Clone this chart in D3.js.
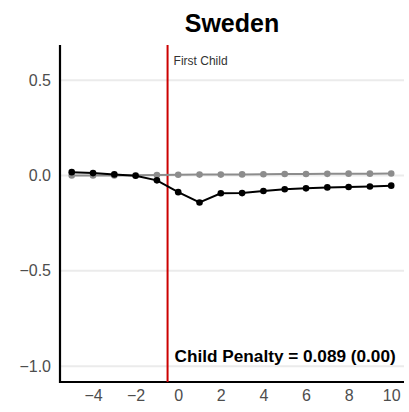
<!DOCTYPE html>
<html>
<head>
<meta charset="utf-8">
<script src="https://cdn.jsdelivr.net/npm/d3@7/dist/d3.min.js"></script>
<style>
  html, body { margin: 0; padding: 0; background: #fff; }
  svg { display: block; font-family: "Liberation Sans", Arial, sans-serif; }
</style>
</head>
<body>
<svg id="chart" width="409" height="412"></svg>
<script>
// Event time relative to first child
const eventTime = [-5, -4, -3, -2, -1, 0, 1, 2, 3, 4, 5, 6, 7, 8, 9, 10];
// Women's earnings impact (black) and men's (gray)
const womenImpact = [0.018, 0.013, 0.006, -0.001, -0.025, -0.087, -0.141, -0.093, -0.092, -0.081, -0.072, -0.067, -0.062, -0.060, -0.057, -0.053];
const menImpact = [0.000, 0.000, 0.001, 0.002, 0.003, 0.004, 0.005, 0.005, 0.006, 0.007, 0.008, 0.008, 0.009, 0.010, 0.010, 0.011];
const yTicks = [0.5, 0.0, -0.5, -1.0];
const xTicks = [-4, -2, 0, 2, 4, 6, 8, 10];
const title = "Sweden";
const eventLabel = "First Child";
const penaltyLabel = "Child Penalty = 0.089 (0.00)";

const svg = d3.select("#chart");
const margin = { left: 60, right: 5, top: 45, bottom: 30 };
const W = 409, H = 412;

const x = d3.scaleLinear().domain([-5.55, 10.6]).range([margin.left, W - margin.right]);
const y = d3.scaleLinear().domain([-1.083, 0.685]).range([H - margin.bottom, margin.top]);

// Horizontal gridlines
svg.append("g")
  .selectAll("line")
  .data(yTicks)
  .join("line")
  .attr("x1", margin.left).attr("x2", W - margin.right)
  .attr("y1", d => y(d)).attr("y2", d => y(d))
  .attr("stroke", "#ebebeb").attr("stroke-width", 2);

// Y axis
const yAxis = svg.append("g")
  .attr("transform", `translate(${margin.left},0)`)
  .call(d3.axisLeft(y).tickValues(yTicks).tickFormat(d3.format(".1f")).tickSize(0).tickPadding(9));
yAxis.select(".domain").remove();
yAxis.selectAll("text").attr("font-size", 16).attr("fill", "#4d4d4d")
  .text(d => d3.format(".1f")(d).replace("-", "\u2212"));

// X axis
const xAxis = svg.append("g")
  .attr("transform", `translate(0,${H - margin.bottom})`)
  .call(d3.axisBottom(x).tickValues(xTicks).tickSize(0).tickPadding(8));
xAxis.select(".domain").remove();
xAxis.selectAll("text").attr("font-size", 16).attr("fill", "#4d4d4d")
  .text(d => String(d).replace("-", "\u2212"));

// Axis lines
svg.append("line")
  .attr("x1", margin.left).attr("x2", margin.left)
  .attr("y1", margin.top).attr("y2", H - margin.bottom + 1)
  .attr("stroke", "#000").attr("stroke-width", 2.2);
svg.append("line")
  .attr("x1", margin.left - 1).attr("x2", W - margin.right)
  .attr("y1", H - margin.bottom).attr("y2", H - margin.bottom)
  .attr("stroke", "#000").attr("stroke-width", 2.2);

// Event line
svg.append("line")
  .attr("x1", x(-0.5)).attr("x2", x(-0.5))
  .attr("y1", margin.top).attr("y2", H - margin.bottom)
  .attr("stroke", "#cc0000").attr("stroke-width", 2);

svg.append("text")
  .attr("x", x(-0.5) + 6).attr("y", 65)
  .attr("font-size", 12).attr("fill", "#333")
  .text(eventLabel);

const line = d3.line().x((d, i) => x(eventTime[i])).y(d => y(d));

function series(values, color) {
  svg.append("path").datum(values)
    .attr("d", line).attr("fill", "none")
    .attr("stroke", color).attr("stroke-width", 2);
  svg.append("g").selectAll("circle").data(values).join("circle")
    .attr("cx", (d, i) => x(eventTime[i])).attr("cy", d => y(d))
    .attr("r", 3.3).attr("fill", color);
}
series(menImpact, "#8c8c8c");
series(womenImpact, "#000");

// Title
svg.append("text")
  .attr("x", (margin.left + W - margin.right) / 2).attr("y", 32)
  .attr("text-anchor", "middle")
  .attr("font-size", 25).attr("font-weight", "bold").attr("fill", "#000")
  .text(title);

// Penalty annotation
svg.append("text")
  .attr("x", x(-0.5) + 7).attr("y", 362)
  .attr("font-size", 17.2).attr("font-weight", "bold").attr("fill", "#000")
  .text(penaltyLabel);
</script>
</body>
</html>
